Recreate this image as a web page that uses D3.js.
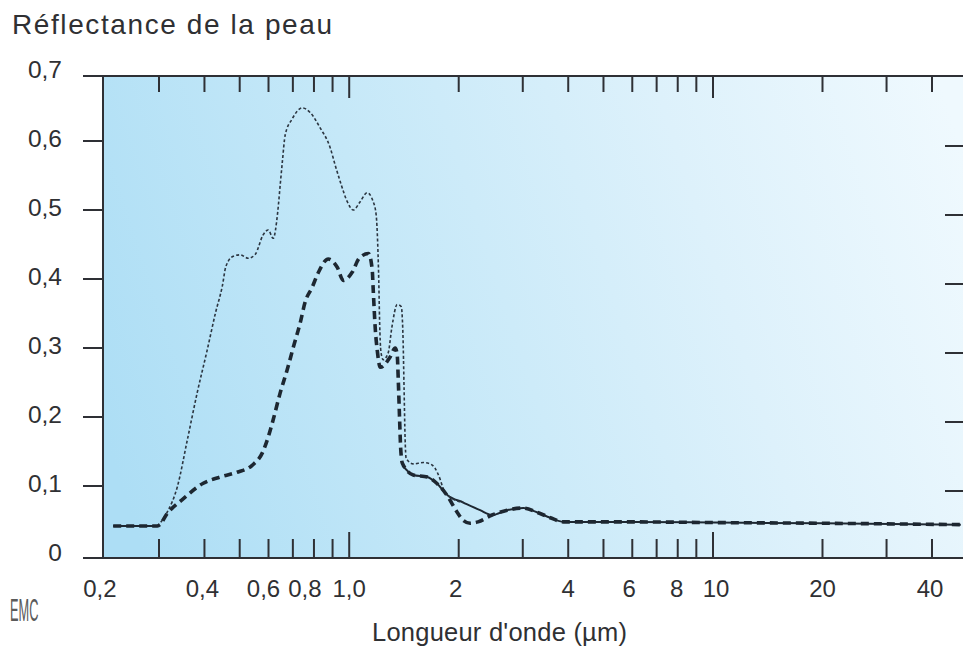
<!DOCTYPE html>
<html>
<head>
<meta charset="utf-8">
<script src="https://cdn.jsdelivr.net/npm/d3@7"></script>
<style>
  html, body { margin: 0; padding: 0; background: #ffffff; }
  svg { display: block; }
  text { font-family: "Liberation Sans", Arial, Helvetica, sans-serif; fill: #2f3033; }
</style>
</head>
<body>
<svg id="chart" width="963" height="653"></svg>
<script>
// ---------- DATA ----------
// Wavelength (µm) vs skin reflectance
const fairSkin = [
  [0.297,0.042],[0.316,0.062],[0.337,0.099],[0.359,0.167],[0.382,0.235],[0.407,0.297],
  [0.429,0.351],[0.448,0.390],[0.458,0.418],[0.48,0.433],[0.502,0.435],[0.528,0.430],
  [0.552,0.436],[0.58,0.464],[0.599,0.471],[0.618,0.459],[0.636,0.497],[0.646,0.536],
  [0.655,0.570],[0.667,0.609],[0.697,0.632],[0.743,0.648],[0.782,0.641],[0.832,0.619],
  [0.887,0.590],[0.915,0.565],[0.945,0.541],[0.988,0.512],[1.026,0.500],[1.072,0.512],
  [1.12,0.525],[1.164,0.512],[1.186,0.493],[1.198,0.449],[1.206,0.396],[1.212,0.340],
  [1.222,0.295],[1.24,0.283],[1.28,0.293],[1.31,0.330],[1.355,0.363],[1.39,0.360],
  [1.405,0.320],[1.415,0.243],[1.424,0.171],[1.434,0.140],[1.50,0.132],[1.60,0.134],
  [1.67,0.132],[1.72,0.126],[1.78,0.109],[1.81,0.097],[1.86,0.087],[2.06,0.076]
];
const darkSkin = [
  [0.2245,0.042],[0.297,0.042],[0.318,0.062],[0.347,0.080],[0.397,0.104],[0.442,0.113],
  [0.492,0.120],[0.541,0.130],[0.577,0.148],[0.599,0.171],[0.618,0.196],[0.646,0.235],
  [0.675,0.268],[0.702,0.301],[0.733,0.336],[0.757,0.367],[0.791,0.388],[0.822,0.409],
  [0.876,0.429],[0.927,0.417],[0.963,0.398],[1.02,0.410],[1.065,0.430],[1.13,0.437],
  [1.157,0.413],[1.164,0.385],[1.18,0.326],[1.194,0.297],[1.217,0.272],[1.296,0.287],
  [1.338,0.300],[1.355,0.290],[1.365,0.250],[1.375,0.200],[1.385,0.155],[1.40,0.133],
  [1.50,0.116],[1.64,0.113],[1.74,0.104],[1.86,0.086],[1.98,0.062],[2.06,0.050],
  [2.15,0.046],[2.26,0.048],[2.47,0.058],[2.72,0.065],[3.01,0.068],[3.28,0.062],
  [3.57,0.054],[3.88,0.048],[6,0.048],[10,0.047],[20,0.046],[48,0.044]
];
const commonUV = [[0.2245,0.042],[0.297,0.042]];
const commonIR = [
  [1.40,0.130],[1.50,0.116],[1.64,0.113],[1.74,0.104],[1.86,0.087],[2.06,0.076],
  [2.29,0.065],[2.47,0.058],[2.72,0.065],[3.01,0.068],[3.28,0.062],[3.57,0.054],
  [3.88,0.048],[6,0.048],[10,0.047],[20,0.046],[48,0.044]
];
const xMinorTicks = [0.3,0.4,0.5,0.6,0.7,0.8,0.9,2,3,4,5,6,7,8,9,20,30,40];
const xMajorTicks = [1,10];
const xLabelValues = [0.2,0.4,0.6,0.8,1,2,4,6,8,10,20,40];
const xLabelTexts  = ["0,2","0,4","0,6","0,8","1,0","2","4","6","8","10","20","40"];
const yTickValues = [0.1,0.2,0.3,0.4,0.5,0.6];
const yLabelValues = [0,0.1,0.2,0.3,0.4,0.5,0.6,0.7];
const titleText = "Réflectance de la peau";
const xTitleText = "Longueur d'onde (µm)";

// ---------- LAYOUT ----------
const svg = d3.select("#chart");
const frame = { left: 103, right: 963, top: 76, bottom: 558, outerLeft: 83 };
// small horizontal nudges of crowded tick labels (px)
const labelNudge = { "0,2": 5, "0,4": -2, "0,6": -5, "0,8": -9, "2": -3, "6": -3, "8": -1, "10": 3, "40": -2 };

const x = d3.scaleLog().domain([0.3, 40]).range([159, 932]);
const y = d3.scaleLinear().domain([0, 0.7]).range([555, 72]);
const fmt = d3.formatLocale({decimal: ",", thousands: " ", grouping: [3], currency: ["", ""]}).format(".1f");

// background gradient
const defs = svg.append("defs");
const grad = defs.append("linearGradient").attr("id", "bg")
  .attr("gradientUnits", "userSpaceOnUse")
  .attr("x1", frame.left).attr("y1", 430).attr("x2", frame.right).attr("y2", 150);
grad.append("stop").attr("offset", 0).attr("stop-color", "#addef5");
grad.append("stop").attr("offset", 0.35).attr("stop-color", "#c5e8f8");
grad.append("stop").attr("offset", 0.7).attr("stop-color", "#ddf1fb");
grad.append("stop").attr("offset", 1).attr("stop-color", "#eff9fe");

svg.append("rect")
  .attr("x", frame.left).attr("y", frame.top)
  .attr("width", frame.right - frame.left).attr("height", frame.bottom - frame.top)
  .attr("fill", "url(#bg)");

const axisColor = "#2e3035";
const g = svg.append("g");

// frame lines
g.append("line").attr("x1", frame.outerLeft).attr("x2", frame.right).attr("y1", frame.top).attr("y2", frame.top)
  .attr("stroke", axisColor).attr("stroke-width", 2);
g.append("line").attr("x1", frame.outerLeft).attr("x2", frame.right).attr("y1", frame.bottom).attr("y2", frame.bottom)
  .attr("stroke", axisColor).attr("stroke-width", 2);
g.append("line").attr("x1", frame.left).attr("x2", frame.left).attr("y1", frame.top).attr("y2", frame.bottom)
  .attr("stroke", axisColor).attr("stroke-width", 2);

// x ticks (bottom and top)
const allX = xMinorTicks.map(v => ({v, major: false})).concat(xMajorTicks.map(v => ({v, major: true})));
g.selectAll(".xb").data(allX).join("line")
  .attr("x1", d => x(d.v)).attr("x2", d => x(d.v))
  .attr("y1", frame.bottom).attr("y2", d => frame.bottom - (d.major ? 26 : 19))
  .attr("stroke", axisColor).attr("stroke-width", 2);
g.selectAll(".xt").data(allX).join("line")
  .attr("x1", d => x(d.v)).attr("x2", d => x(d.v))
  .attr("y1", frame.top).attr("y2", d => frame.top + (d.major ? 22 : 16))
  .attr("stroke", axisColor).attr("stroke-width", 2);

// y ticks left (outward) and right (inward)
g.selectAll(".yl").data(yTickValues).join("line")
  .attr("x1", frame.outerLeft).attr("x2", frame.left)
  .attr("y1", d => y(d)).attr("y2", d => y(d))
  .attr("stroke", axisColor).attr("stroke-width", 2);
g.selectAll(".yr").data(yTickValues).join("line")
  .attr("x1", frame.right - 18).attr("x2", frame.right)
  .attr("y1", d => y(d) + 5).attr("y2", d => y(d) + 5)
  .attr("stroke", axisColor).attr("stroke-width", 2);

// labels
svg.selectAll(".xl").data(xLabelValues).join("text")
  .attr("x", (d, i) => x(d) + (labelNudge[xLabelTexts[i]] || 0)).attr("y", 597)
  .attr("text-anchor", "middle").attr("font-size", 24)
  .text((d, i) => xLabelTexts[i]);

svg.selectAll(".ylab").data(yLabelValues).join("text")
  .attr("x", 62).attr("y", d => y(d) - 3).attr("dy", "0.35em")
  .attr("text-anchor", "end").attr("font-size", 24.5)
  .text(d => d === 0 ? "0" : fmt(d));

svg.append("text").attr("x", 12).attr("y", 34).attr("font-size", 28)
  .attr("textLength", 320).attr("lengthAdjust", "spacing")
  .text(titleText);

svg.append("text").attr("x", 372).attr("y", 641).attr("font-size", 25.5)
  .attr("textLength", 255).attr("lengthAdjust", "spacing")
  .text(xTitleText);

// EMC mark
svg.append("text").attr("transform", "translate(10,621) scale(0.4,1)")
  .attr("font-size", 32).style("fill", "#5a5a5a")
  .text("EMC");

// ---------- CURVES ----------
const line = d3.line().x(d => x(d[0])).y(d => y(d[1])).curve(d3.curveMonotoneX);
const lineColor = "#1d2731";

[commonUV, commonIR].forEach(seg => {
  svg.append("path").datum(seg).attr("d", line)
    .attr("fill", "none").attr("stroke", lineColor).attr("stroke-width", 2);
});

svg.append("path").datum(fairSkin).attr("d", line)
  .attr("fill", "none").attr("stroke", "#2b3540").attr("stroke-width", 1.6)
  .attr("stroke-dasharray", "3,2.2");

svg.append("path").datum(darkSkin).attr("d", line)
  .attr("fill", "none").attr("stroke", lineColor).attr("stroke-width", 3.6)
  .attr("stroke-dasharray", "8,5");
</script>
</body>
</html>
